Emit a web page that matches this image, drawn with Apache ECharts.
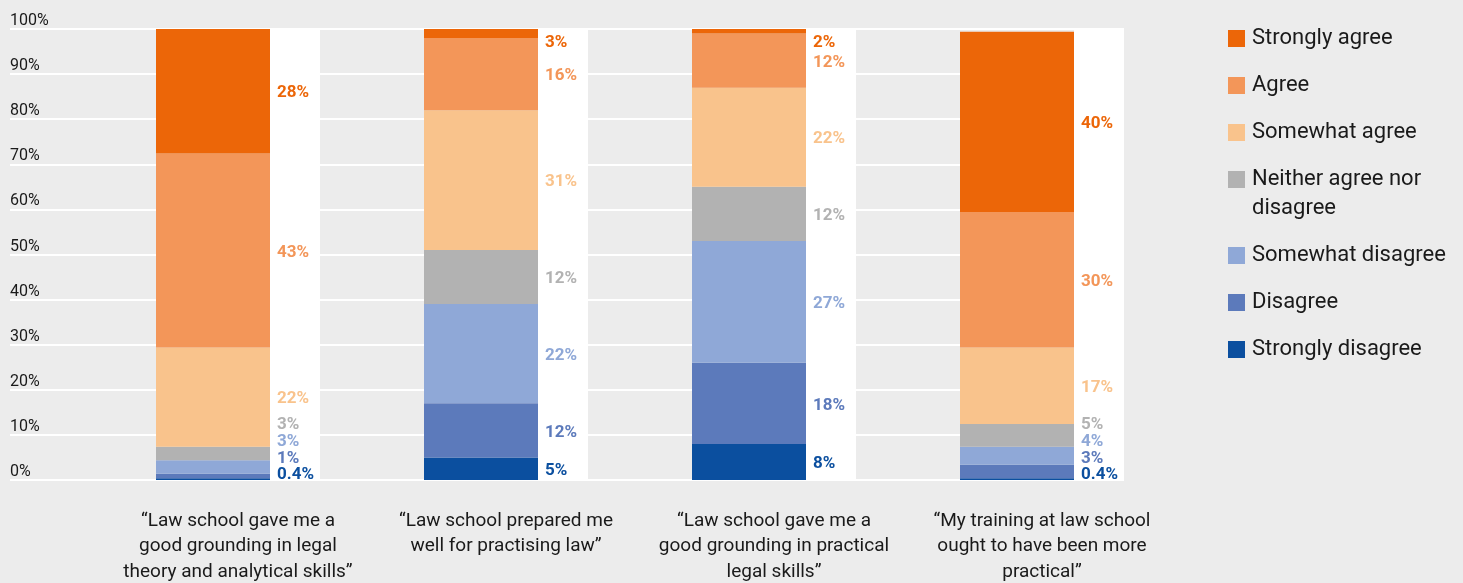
<!DOCTYPE html>
<html>
<head>
<meta charset="utf-8">
<script src="https://cdn.jsdelivr.net/npm/echarts@6/dist/echarts.min.js"></script>
<style>
  html, body { margin: 0; padding: 0; background: #ececec; }
  #chart { width: 1463px; height: 583px; }
</style>
</head>
<body>
<div id="chart"></div>
<script>
// Statements put to respondents
const categories = [
  '“Law school gave me a\ngood grounding in legal\ntheory and analytical skills”',
  '“Law school prepared me\nwell for practising law”',
  '“Law school gave me a\ngood grounding in practical\nlegal skills”',
  '“My training at law school\nought to have been more\npractical”'
];

// Response scale, bottom of the stack first
const responses = [
  'Strongly disagree', 'Disagree', 'Somewhat disagree',
  'Neither agree nor disagree', 'Somewhat agree', 'Agree', 'Strongly agree'
];

// Share of respondents (%) per statement
const stronglyDisagree = [0.4, 5, 8, 0.4];
const disagree         = [1, 12, 18, 3];
const somewhatDisagree = [3, 22, 27, 4];
const neither          = [3, 12, 12, 5];
const somewhatAgree    = [22, 31, 22, 17];
const agree            = [43, 16, 12, 30];
const stronglyAgree    = [28, 3, 2, 40];

// Full-height label column beside each bar
const labelColumn = [100, 100, 100, 100];

const values = [stronglyDisagree, disagree, somewhatDisagree, neither, somewhatAgree, agree, stronglyAgree];
const colors = ['#0b4f9f', '#5c7abb', '#8fa8d7', '#b2b2b2', '#f9c38c', '#f39659', '#ec6608'];
const FONT = 'Roboto, "Noto Sans", sans-serif';
const TEXT = '#1a1a1a';

const chart = echarts.init(document.getElementById('chart'), null, { renderer: 'canvas' });

function buildSeries(offsets) {
  const series = responses.map((name, i) => ({
    name,
    type: 'bar',
    stack: 'responses',
    xAxisIndex: 1,
    yAxisIndex: 1,
    barWidth: 114,
    barGap: '0%',
    clip: true,
    z: 3,
    itemStyle: { color: colors[i], borderWidth: 0 },
    emphasis: { disabled: true },
    label: {
      show: true,
      position: 'right',
      distance: 7,
      color: colors[i],
      fontFamily: FONT,
      fontWeight: 'bold',
      fontSize: 17,
      formatter: p => p.value + '%'
    },
    data: values[i].map((v, c) => offsets ? { value: v, label: { offset: [0, offsets[i][c]] } } : v)
  }));
  series.push({
    name: 'column',
    type: 'bar',
    xAxisIndex: 1,
    yAxisIndex: 1,
    barWidth: 50,
    barGap: '0%',
    z: 2,
    silent: true,
    itemStyle: { color: '#ffffff', borderWidth: 0 },
    data: labelColumn
  });
  return series;
}

const legendText = { fontFamily: FONT, fontSize: 22, lineHeight: 29, color: TEXT, padding: [0, 0, 0, 2] };
const legendBase = {
  orient: 'vertical',
  left: 1228,
  padding: 0,
  itemWidth: 17,
  itemHeight: 17,
  itemGap: 18,
  icon: 'rect',
  textStyle: legendText
};

const option = {
  backgroundColor: '#ececec',
  animation: false,
  grid: [
    { left: 10, top: 29, width: 1114, height: 451, outerBoundsMode: 'none' },
    { left: 104, top: 29, width: 1072, height: 451, outerBoundsMode: 'none' }
  ],
  xAxis: [
    { gridIndex: 0, type: 'value', min: 0, max: 1, show: false },
    {
      gridIndex: 1,
      type: 'category',
      data: categories,
      axisLine: { show: false },
      axisTick: { show: false },
      splitLine: { show: false },
      axisLabel: {
        interval: 0,
        margin: 28,
        fontFamily: FONT,
        fontSize: 19,
        lineHeight: 25.5,
        color: TEXT
      }
    }
  ],
  yAxis: [
    {
      gridIndex: 0,
      type: 'value',
      min: 0,
      max: 100,
      interval: 10,
      axisLine: { show: false },
      axisTick: { show: false },
      splitLine: { show: true, lineStyle: { color: '#ffffff', width: 2 } },
      axisLabel: {
        inside: true,
        margin: 0,
        verticalAlign: 'bottom',
        formatter: '{value}%',
        fontFamily: FONT,
        fontSize: 16,
        lineHeight: 16,
        padding: [0, 0, 0, 0],
        color: TEXT
      }
    },
    { gridIndex: 1, type: 'value', min: 0, max: 100, show: false }
  ],
  legend: [
    Object.assign({}, legendBase, { top: 24, data: ['Strongly agree', 'Agree', 'Somewhat agree'] }),
    Object.assign({}, legendBase, {
      top: 136,
      data: ['Neither agree nor disagree'],
      // empty first row keeps the swatch level with the first line of text
      formatter: () => '{p| }\n{t|Neither agree nor}\n{t|disagree}',
      textStyle: Object.assign({}, legendText, {
        rich: {
          p: { fontFamily: FONT, fontSize: 22, lineHeight: 29, height: 29 },
          t: { fontFamily: FONT, fontSize: 22, lineHeight: 29, color: TEXT }
        }
      })
    }),
    Object.assign({}, legendBase, { top: 241, data: ['Somewhat disagree', 'Disagree', 'Strongly disagree'] })
  ],
  series: buildSeries(null)
};

chart.setOption(option);

// Place value labels at their segment centres, nudging small segments apart
function labelOffsets() {
  const py = (c, v) => chart.convertToPixel({ xAxisIndex: 1, yAxisIndex: 1 }, [c, v])[1];
  const offsets = values.map(() => []);
  const glyphShift = 2;
  categories.forEach((_, c) => {
    const natural = [];
    let base = 0;
    values.forEach(arr => {
      const lo = Math.min(base, 100);
      const hi = Math.min(base + arr[c], 100);
      natural.push((py(c, lo) + py(c, hi)) / 2);
      base += arr[c];
    });
    const bottom = py(c, 0) - 7;
    const top = py(c, 100) + 11.5;
    const gap = 16.7;
    const y = natural.slice();
    for (let i = 0; i < y.length; i++) {
      y[i] = Math.min(y[i], i === 0 ? bottom : y[i - 1] - gap);
    }
    for (let i = y.length - 1; i >= 0; i--) {
      y[i] = Math.max(y[i], i === y.length - 1 ? top : y[i + 1] + gap);
    }
    y.forEach((v, i) => { offsets[i][c] = v - natural[i] + glyphShift; });
  });
  return offsets;
}

chart.setOption({ series: buildSeries(labelOffsets()) });
</script>
</body>
</html>
